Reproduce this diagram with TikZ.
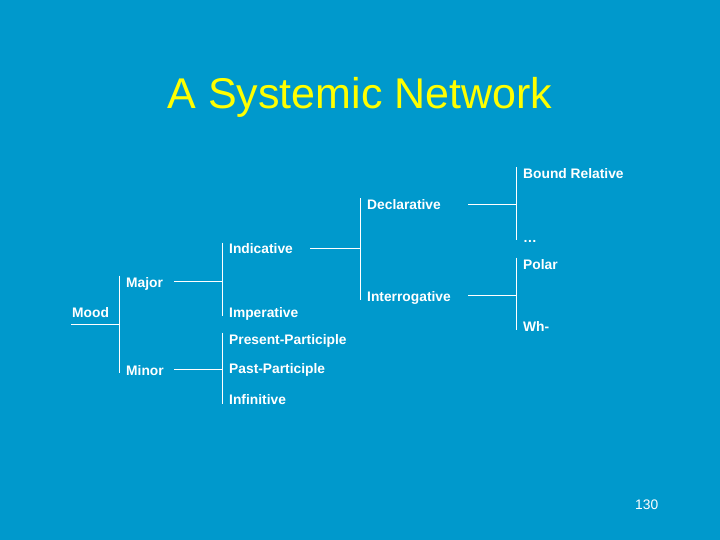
\documentclass[tikz,border=0pt]{standalone}
\usepackage{fontspec}
\setmainfont{Liberation Sans}
\usepackage{xcolor}
\usepackage{tikz}
\definecolor{slideblue}{RGB}{0,153,204}
\definecolor{titleyellow}{RGB}{255,255,0}
\tikzset{
  featlabel/.style={anchor=base west, inner sep=0pt, text=white, font=\fontsize{13.8}{16}\selectfont\bfseries},
  netline/.style={draw=white, line width=1pt},
  titletext/.style={anchor=base, inner sep=0pt, text=titleyellow, font=\fontsize{43}{50}\selectfont},
  pagelabel/.style={anchor=base west, inner sep=0pt, text=white, font=\fontsize{13.8}{16}\selectfont}
}

\begin{document}
\begin{tikzpicture}[x=1pt, y=-1pt]
  \fill[slideblue] (0,0) rectangle (720,540);

  \node[titletext] (title) at (360,109) {A Systemic Network};

  \node[featlabel] (mood) at (72,317) {Mood};
  \node[featlabel] (major) at (126,287) {Major};
  \node[featlabel] (minor) at (126,375) {Minor};
  \node[featlabel] (ind) at (229,254) {Indicative};
  \node[featlabel] (imp) at (229,317) {Imperative};
  \node[featlabel] (prespart) at (229,344) {Present-Participle};
  \node[featlabel] (pastpart) at (229,373) {Past-Participle};
  \node[featlabel] (inf) at (229,404) {Infinitive};
  \node[featlabel] (decl) at (367,210) {Declarative};
  \node[featlabel] (interr) at (367,301) {Interrogative};
  \node[featlabel] (boundrel) at (523,179) {Bound Relative};
  \node[featlabel] (etc) at (523,242) {…};
  \node[featlabel] (polar) at (523,269) {Polar};
  \node[featlabel] (wh) at (523,331) {Wh-};

  \node[pagelabel] (pagenum) at (635,509) {130};

  % Mood system
  \draw[netline] ([xshift=-7pt,yshift=-7pt]major.base west |- mood.base) -- ++(-48,0);
  \draw[netline] ([xshift=-7pt,yshift=11.5pt]major.base west) -- ([xshift=-7pt,yshift=2pt]minor.base west);

  % Major / Minor
  \draw[netline] ([xshift=-7pt,yshift=6pt]ind.base west |- major.base) -- ++(-48,0);
  \draw[netline] ([xshift=-7pt,yshift=11.5pt]ind.base west) -- ([xshift=-7pt,yshift=1pt]imp.base west);
  \draw[netline] ([xshift=-7pt,yshift=6pt]pastpart.base west |- minor.base) -- ++(-48,0);
  \draw[netline] ([xshift=-7pt,yshift=11.5pt]prespart.base west) -- ([xshift=-7pt,yshift=0.5pt]inf.base west);

  % Indicative
  \draw[netline] ([xshift=-7pt,yshift=6pt]decl.base west |- ind.base) -- ++(-50,0);
  \draw[netline] ([xshift=-7pt,yshift=11.5pt]decl.base west) -- ([xshift=-7pt,yshift=1pt]interr.base west);

  % Declarative / Interrogative
  \draw[netline] ([xshift=-7pt,yshift=5pt]boundrel.base west |- decl.base) -- ++(-48,0);
  \draw[netline] ([xshift=-7pt,yshift=11.5pt]boundrel.base west) -- ([xshift=-7pt,yshift=2pt]etc.base west);
  \draw[netline] ([xshift=-7pt,yshift=6pt]polar.base west |- interr.base) -- ++(-48,0);
  \draw[netline] ([xshift=-7pt,yshift=11.5pt]polar.base west) -- ([xshift=-7pt,yshift=1pt]wh.base west);
\end{tikzpicture}
\end{document}
